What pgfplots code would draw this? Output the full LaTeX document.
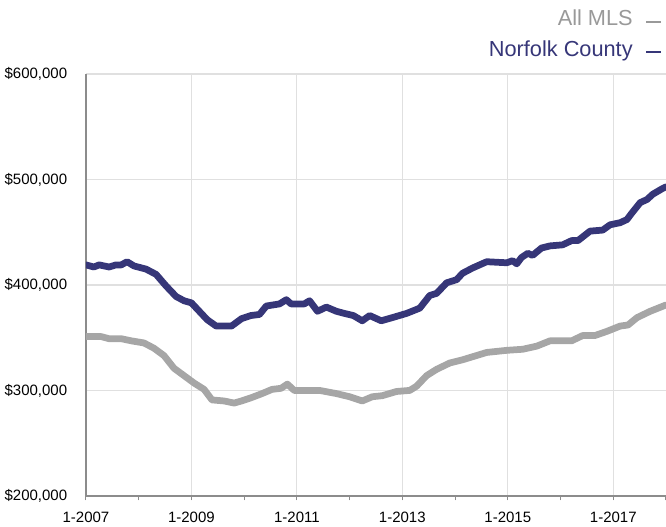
\documentclass[border=0pt]{standalone}
\usepackage{fontspec}
\setmainfont{Liberation Sans}
\usepackage{pgfplots}
\pgfplotsset{compat=1.18}
\definecolor{navy}{HTML}{363678}
\definecolor{mlsgray}{HTML}{A6A6A6}
\definecolor{gridgray}{HTML}{E0E0E0}
\definecolor{axisgray}{HTML}{8C8C8C}
\definecolor{labelgray}{HTML}{999999}

\begin{document}
\begin{tikzpicture}
% page frame: 666x527 px at 1.5 px per pt
\path[use as bounding box] (-57.3pt,-20.7pt) rectangle (386.7pt,330.6pt);
\begin{axis}[
    name=ax,
    scale only axis,
    width=386.7pt, height=281.3pt,
    xmin=2007, xmax=2018,
    ymin=200000, ymax=600000,
    scaled y ticks=false,
    axis x line*=bottom, axis y line*=left,
    axis line style={draw=axisgray, line width=0.9pt, -},
    xtick={2007,2009,...,2017},
    xticklabels={1-2007,1-2009,1-2011,1-2013,1-2015,1-2017},
    minor xtick={2008,2010,...,2018},
    ytick={200000,300000,...,600000},
    yticklabels={{\$200,000},{\$300,000},{\$400,000},{\$500,000},{\$600,000}},
    tick align=outside,
    major tick length=3pt, minor tick length=3pt,
    xtick style={draw=axisgray, line width=0.7pt},
    minor tick style={draw=axisgray, line width=0.7pt},
    ytick style={draw=none},
    xmajorgrids, ymajorgrids,
    grid style={draw=gridgray, line width=0.8pt},
    tick label style={font=\fontsize{10}{12}\selectfont, text=black},
    yticklabel style={xshift=-6pt},
    xticklabel style={yshift=-4.4pt},
]
% All MLS
\addplot[mlsgray, line width=4.5pt, line join=round, line cap=round] coordinates {
(2007.00,351000) (2007.29,351000) (2007.44,349000) (2007.67,349000)
(2007.86,347000) (2008.10,345000) (2008.29,340000) (2008.48,333000)
(2008.67,321000) (2008.86,314000) (2009.05,307000) (2009.24,301000)
(2009.39,291000) (2009.62,290000) (2009.81,288000) (2009.95,290000)
(2010.13,293000) (2010.34,297000) (2010.53,301000) (2010.70,302000)
(2010.82,306000) (2010.95,300000) (2011.43,300000) (2011.75,297000)
(2012.00,294000) (2012.24,290000) (2012.43,294000) (2012.62,295000)
(2012.89,299000) (2013.14,300000) (2013.27,304000) (2013.46,314000)
(2013.65,320000) (2013.90,326000) (2014.14,329000) (2014.60,336000)
(2014.98,338000) (2015.28,339000) (2015.55,342000) (2015.80,347000)
(2016.21,347000) (2016.42,352000) (2016.65,352000) (2016.88,356000)
(2017.13,361000) (2017.28,362000) (2017.45,369000) (2017.70,375000)
(2018.00,381000)
};
% Norfolk County
\addplot[navy, line width=4.5pt, line join=round, line cap=round] coordinates {
(2007.00,419000) (2007.15,417000) (2007.25,419000) (2007.44,417000)
(2007.57,419000) (2007.67,419000) (2007.78,422000) (2007.91,418000)
(2008.14,415000) (2008.33,410000) (2008.52,399000) (2008.71,389000)
(2008.86,385000) (2009.00,383000) (2009.15,375000) (2009.30,367000)
(2009.47,361000) (2009.76,361000) (2009.95,368000) (2010.13,371000)
(2010.29,372000) (2010.42,380000) (2010.67,382000) (2010.80,386000)
(2010.89,382000) (2011.14,382000) (2011.24,385000) (2011.39,375000)
(2011.56,379000) (2011.75,375000) (2011.90,373000) (2012.07,371000)
(2012.24,366000) (2012.38,371000) (2012.60,366000) (2012.81,369000)
(2013.08,373000) (2013.23,376000) (2013.33,378000) (2013.52,390000)
(2013.65,392000) (2013.84,402000) (2014.03,405000) (2014.14,411000)
(2014.33,416000) (2014.60,422000) (2014.98,421000) (2015.09,423000)
(2015.17,420000) (2015.26,426000) (2015.38,430000) (2015.47,428000)
(2015.64,435000) (2015.80,437000) (2016.04,438000) (2016.21,442000)
(2016.33,442000) (2016.56,451000) (2016.80,452000) (2016.94,457000)
(2017.13,459000) (2017.26,462000) (2017.35,468000) (2017.51,478000)
(2017.64,481000) (2017.75,486000) (2017.92,491000) (2018.00,493000)
};
\end{axis}
% legend
\node[anchor=base east, inner sep=0pt, text=labelgray,
      font=\fontsize{14.5}{17}\selectfont] at (364.7pt,313.3pt) {All MLS};
\node[anchor=base east, inner sep=0pt, text=navy,
      font=\fontsize{14.5}{17}\selectfont] at (364.7pt,292.6pt) {Norfolk County};
\draw[labelgray, line width=1.1pt] (373.5pt,316pt) -- (383.5pt,316pt);
\draw[navy, line width=1.1pt] (373.5pt,296pt) -- (383.5pt,296pt);
\end{tikzpicture}
\end{document}
